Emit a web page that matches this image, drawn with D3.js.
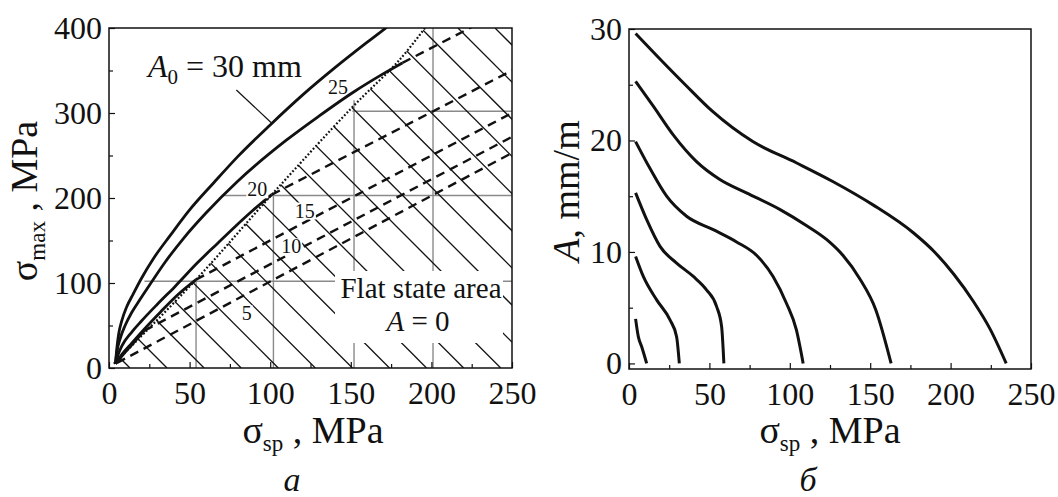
<!DOCTYPE html>
<html>
<head>
<meta charset="utf-8">
<script src="https://cdn.jsdelivr.net/npm/d3@7"></script>
<style>
body { margin: 0; background: #fff; }
text { font-family: "Liberation Serif", "Times New Roman", serif; fill: #111; }
</style>
</head>
<body>
<div id="fig"></div>
<script>
// ---- panel a: sigma_max vs sigma_sp ----
const xTicksA = [0, 50, 100, 150, 200, 250];
const yTicksA = [0, 100, 200, 300, 400];

// solid curves A0 = 30, 25, 20, 15, 10 (up to the dotted boundary)
const solid30 = [[4,5],[4.8,22],[6,40],[8,56],[11,72],[15,87],[20,105],[28,130],[38,156],[50,186],[65,218],[80,249],[100,286],[120,321],[140,353],[160,383],[171,399],[173,402]];
const solid25 = [[4,5],[5,20],[7,35],[10,50],[14,65],[19,80],[26,100],[35,125],[46,152],[60,182],[80,220],[110,268],[130,296],[152,325],[170,346],[182,359]];
const solid20 = [[4,5],[5.5,15],[8,26],[14,42],[20,55],[30,75],[41,96],[55,124],[67,146],[78,166],[89,185],[101,204]];
const solid15 = [[4,5],[8,16],[14,29],[22,46],[32,66],[42,85],[54,104]];
const solid10 = [[4,5],[8,14],[14,27],[22,44]];

// dashed continuations in the flat state area
const dashed25 = [[182,359],[226,402]];
const dashed20 = [[101,204],[250,350]];
const dashed15 = [[54,104],[250,300]];
const dashed10 = [[22,44],[250,272]];
const dashed5 = [[5,6],[250,253]];

// dotted boundary of the flat state area
const boundary = [[3,5],[54,104],[101,204],[150,305],[180,362],[196,400]];

// thin gray guide lines
const guideV = [[54,105],[102,205],[152,315],[201,400]];      // x, top y
const guideH = [[22,102],[70,203],[151,302]];                 // start x, y

// hatching: x where each hatch line meets sigma_max = 0, slope in MPa/MPa
const hatchX0 = [13,36,59,82,105,128,151,174,197,220,243,266,289,312,335,358,381,404,427,450,473];
const hatchSlope = -1.9;

// curve labels
const curveLabels = [
  { t: "25", x: 142, y: 322 },
  { t: "20", x: 92, y: 202 },
  { t: "15", x: 121.5, y: 177 },
  { t: "10", x: 113, y: 135 },
  { t: "5", x: 85.5, y: 56 }
];

// ---- panel б: A vs sigma_sp ----
const xTicksB = [0, 50, 100, 150, 200, 250];
const yTicksB = [0, 10, 20, 30];
const flat30 = [[4.1,29.6],[20,27.2],[35,25],[52,22.6],[77,19.9],[104,18],[127,16.3],[152,14.2],[177,11.7],[190,10],[202,8],[214,5.6],[224.5,3.1],[234.6,0]];
const flat25 = [[4.1,25.3],[15,23.1],[27.5,20.5],[42,18.1],[56.5,16.5],[73,15.3],[94,13.8],[110,12.4],[123,11.1],[133,9.7],[143.5,7.6],[153.5,4.8],[163,0]];
const flat20 = [[4.1,19.9],[13,17.5],[23.4,15],[35.8,13.2],[52.4,12],[66.9,10.9],[79.3,9.7],[89.6,7.8],[97.9,5.4],[104.1,3],[108.3,0]];
const flat15 = [[4.1,15.3],[11,12.9],[19.3,10.5],[29.6,9],[40,7.8],[48.2,6.6],[54.5,5.1],[57.6,3.3],[59,0]];
const flat10 = [[4.1,9.6],[8.9,7.8],[17.2,5.7],[25.5,3.9],[29.6,2.4],[31.3,0]];
const flat4 = [[4.1,4.0],[5.8,2.4],[7.9,1.5],[11,0]];

const width = 1058, height = 497;
const pa = { left: 109, right: 512, top: 28, bottom: 368 };
const pb = { left: 629, right: 1031, top: 29, bottom: 369 };
const tickFont = 32, titleFont = 38, subFont = 23;

const svg = d3.select("#fig").append("svg")
  .attr("width", width)
  .attr("height", height);

const xa = d3.scaleLinear().domain([0, 250]).range([pa.left, pa.right]);
const ya = d3.scaleLinear().domain([0, 400]).range([pa.bottom, pa.top]);
const xb = d3.scaleLinear().domain([0, 250]).range([pb.left, pb.right]);
const yb = d3.scaleLinear().domain([-0.5, 30]).range([pb.bottom, pb.top]);

const defs = svg.append("defs");
defs.append("clipPath").attr("id", "clipA").append("rect")
  .attr("x", pa.left).attr("y", pa.top)
  .attr("width", pa.right - pa.left).attr("height", pa.bottom - pa.top);
defs.append("clipPath").attr("id", "clipB").append("rect")
  .attr("x", pb.left).attr("y", pb.top)
  .attr("width", pb.right - pb.left).attr("height", pb.bottom - pb.top);

// region under the dotted boundary, used to clip the hatching
const hatchRegion = boundary.concat([[250, 400], [250, 0], [boundary[0][0], 0]]);
defs.append("clipPath").attr("id", "clipHatch").append("path")
  .attr("d", "M" + hatchRegion.map(d => [xa(d[0]), ya(d[1])].join(",")).join("L") + "Z");

function axes(g, x, y, xTicks, yTicks, xMinor, yMinor, p) {
  g.append("g")
    .attr("transform", `translate(0,${p.bottom})`)
    .call(d3.axisBottom(x).tickValues(xMinor).tickSize(-4).tickFormat(""))
    .call(a => a.select(".domain").remove());
  g.append("g")
    .attr("transform", `translate(${p.left},0)`)
    .call(d3.axisLeft(y).tickValues(yMinor).tickSize(-4).tickFormat(""))
    .call(a => a.select(".domain").remove());
  g.append("g")
    .attr("transform", `translate(0,${p.bottom})`)
    .call(d3.axisBottom(x).tickValues(xTicks).tickSize(-6).tickPadding(13).tickFormat(d3.format("d")))
    .call(a => a.select(".domain").remove())
    .selectAll("text").style("font-size", tickFont + "px").style("font-family", "Liberation Serif");
  g.append("g")
    .attr("transform", `translate(${p.left},0)`)
    .call(d3.axisLeft(y).tickValues(yTicks).tickSize(-6).tickPadding(7).tickFormat(d3.format("d")))
    .call(a => a.select(".domain").remove())
    .selectAll("text").style("font-size", tickFont + "px").style("font-family", "Liberation Serif");
  g.selectAll(".tick line").attr("stroke", "#111").attr("stroke-width", 1.2);
  g.append("rect")
    .attr("x", p.left).attr("y", p.top)
    .attr("width", p.right - p.left).attr("height", p.bottom - p.top)
    .attr("fill", "none").attr("stroke", "#111").attr("stroke-width", 1.5);
}

function subTitle(g, main, sub, rest, italicMain) {
  const t = g.append("text").attr("text-anchor", "middle").style("font-size", titleFont + "px");
  t.append("tspan").style("font-style", italicMain ? "italic" : "normal").text(main);
  if (sub) {
    t.append("tspan").attr("dy", 8).style("font-size", subFont + "px").text(sub);
    t.append("tspan").attr("dy", -8).text(rest);
  } else {
    t.append("tspan").text(rest);
  }
  return t;
}

// ---------- panel a ----------
const ga = svg.append("g");
const plotA = ga.append("g").attr("clip-path", "url(#clipA)");
const lineA = d3.line().x(d => xa(d[0])).y(d => ya(d[1]));
const smoothA = d3.line().x(d => xa(d[0])).y(d => ya(d[1])).curve(d3.curveMonotoneX);

// gray guides
plotA.selectAll(".gv").data(guideV).enter().append("line")
  .attr("x1", d => xa(d[0])).attr("x2", d => xa(d[0]))
  .attr("y1", ya(0)).attr("y2", d => ya(d[1]))
  .attr("stroke", "#8a8a8a").attr("stroke-width", 1.4);
plotA.selectAll(".gh").data(guideH).enter().append("line")
  .attr("x1", d => xa(d[0])).attr("x2", xa(250))
  .attr("y1", d => ya(d[1])).attr("y2", d => ya(d[1]))
  .attr("stroke", "#8a8a8a").attr("stroke-width", 1.4);

// hatching
plotA.append("g").attr("clip-path", "url(#clipHatch)")
  .selectAll("line").data(hatchX0).enter().append("line")
  .attr("x1", d => xa(d)).attr("y1", ya(0))
  .attr("x2", d => xa(d - 400 / -hatchSlope)).attr("y2", ya(400))
  .attr("stroke", "#111").attr("stroke-width", 1.3);

// white box behind the area caption
plotA.append("rect")
  .attr("x", 335).attr("y", 271).attr("width", 168).attr("height", 72)
  .attr("fill", "#fff");

// dashed lines
[dashed25, dashed20, dashed15, dashed10, dashed5].forEach(d => {
  plotA.append("path").attr("d", lineA(d))
    .attr("fill", "none").attr("stroke", "#111")
    .attr("stroke-width", 2.4).attr("stroke-dasharray", "9,6");
});

// dotted boundary
plotA.append("path").attr("d", d3.line().x(d => xa(d[0])).y(d => ya(d[1])).curve(d3.curveCatmullRom)(boundary))
  .attr("fill", "none").attr("stroke", "#111")
  .attr("stroke-width", 2.2).attr("stroke-dasharray", "1.8,2");

// solid curves
[solid30, solid25, solid20, solid15, solid10].forEach(d => {
  plotA.append("path").attr("d", smoothA(d))
    .attr("fill", "none").attr("stroke", "#111").attr("stroke-width", 2.8);
});

// curve labels with white background
curveLabels.forEach(l => {
  const t = ga.append("text")
    .attr("x", xa(l.x)).attr("y", ya(l.y))
    .attr("text-anchor", "middle")
    .style("font-size", "20px")
    .text(l.t);
  if (l.t !== "25") {
    const bb = t.node().getBBox();
    ga.insert("rect", "text")
      .attr("x", bb.x - 1).attr("y", bb.y + 3)
      .attr("width", bb.width + 2).attr("height", bb.height - 5)
      .attr("fill", "#fff");
  }
});

// A0 = 30 mm label and leader
ga.append("line")
  .attr("x1", xa(79)).attr("y1", ya(327))
  .attr("x2", xa(101)).attr("y2", ya(288))
  .attr("stroke", "#111").attr("stroke-width", 1.2);
const a0 = ga.append("text").attr("x", 148).attr("y", 77).style("font-size", "32px");
a0.append("tspan").style("font-style", "italic").text("A");
a0.append("tspan").attr("dy", 7).style("font-size", "21px").text("0");
a0.append("tspan").attr("dy", -7).text(" = 30 mm");

ga.append("text").attr("x", 421).attr("y", 298).attr("text-anchor", "middle")
  .style("font-size", "29px").text("Flat state area");
const az = ga.append("text").attr("x", 418).attr("y", 331).attr("text-anchor", "middle")
  .style("font-size", "29px");
az.append("tspan").style("font-style", "italic").text("A");
az.append("tspan").text(" = 0");

axes(ga, xa, ya, xTicksA, yTicksA, d3.range(25, 250, 50), d3.range(50, 400, 100), pa);

// axis titles
subTitle(ga, "σ", "sp", " , MPa").attr("x", 313).attr("y", 443);
subTitle(ga, "σ", "max", " , MPa").attr("transform", "translate(37,201) rotate(-90)");
ga.append("text").attr("x", 292).attr("y", 491).attr("text-anchor", "middle")
  .style("font-size", "34px").style("font-style", "italic").text("a");

// ---------- panel б ----------
const gb = svg.append("g");
const plotB = gb.append("g").attr("clip-path", "url(#clipB)");
const lineB = d3.line().x(d => xb(d[0])).y(d => yb(d[1])).curve(d3.curveMonotoneX);

[flat30, flat25, flat20, flat15, flat10, flat4].forEach(d => {
  plotB.append("path").attr("d", lineB(d))
    .attr("fill", "none").attr("stroke", "#111").attr("stroke-width", 3);
});

axes(gb, xb, yb, xTicksB, yTicksB, d3.range(25, 250, 50), [5, 15, 25], pb);

subTitle(gb, "σ", "sp", " , MPa").attr("x", 830).attr("y", 443);
subTitle(gb, "A", null, ", mm/m", true).attr("transform", "translate(579,191) rotate(-90)");
gb.append("text").attr("x", 808).attr("y", 491).attr("text-anchor", "middle")
  .style("font-size", "34px").style("font-style", "italic").text("б");
</script>
</body>
</html>
